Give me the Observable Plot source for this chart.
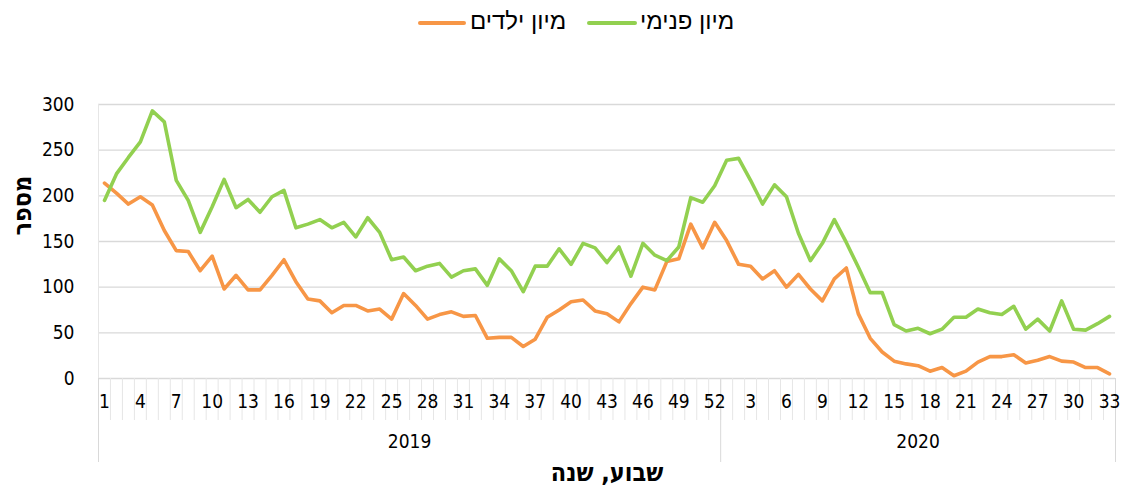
<!DOCTYPE html>
<html>
<head>
<meta charset="utf-8">
<script src="https://cdn.jsdelivr.net/npm/d3@7"></script>
<script src="https://cdn.jsdelivr.net/npm/@observablehq/plot@0.6"></script>
<style>
  body { margin: 0; background: #fff; font-family: "DejaVu Sans Condensed", "Liberation Sans", sans-serif; }
  #legend { position: relative; width: 1123px; height: 44px; }
  .sw { position: absolute; top: 21px; height: 4px; border-radius: 2px; }
  .lt { position: absolute; top: 6px; font-size: 24px; color: #000; line-height: 30px; direction: rtl; font-family: "Liberation Sans", "DejaVu Sans", sans-serif; }
</style>
</head>
<body>
<div id="legend">
  <div class="sw" style="left:418px;width:48px;background:#F79646"></div>
  <div class="lt" style="left:470px">מיון ילדים</div>
  <div class="sw" style="left:587px;width:50px;background:#92D050"></div>
  <div class="lt" style="left:640px">מיון פנימי</div>
</div>
<div id="chart"></div>
<script>
const years = ["2019", "2020"];
const weeks2019 = [1,2,3,4,5,6,7,8,9,10,11,12,13,14,15,16,17,18,19,20,21,22,23,24,25,26,27,28,29,30,31,32,33,34,35,36,37,38,39,40,41,42,43,44,45,46,47,48,49,50,51,52];
const weeks2020 = [1,2,3,4,5,6,7,8,9,10,11,12,13,14,15,16,17,18,19,20,21,22,23,24,25,26,27,28,29,30,31,32,33];
const tickWeeks2019 = [1,4,7,10,13,16,19,22,25,28,31,34,37,40,43,46,49,52];
const tickWeeks2020 = [3,6,9,12,15,18,21,24,27,30,33];
const yTicks = [0,50,100,150,200,250,300];

// מיון ילדים (orange)
const kids2019 = [214,203,191,199,190,162,140,139,118,134,98,113,97,97,113,130,106,87,85,72,80,80,74,76,65,93,80,65,70,73,68,69,44,45,45,35,43,67,75,84,86,74,71,62,82,100,97,128,131,169,143,171];
const kids2020 = [151,125,123,109,118,100,114,98,85,109,121,71,44,29,19,16,14,8,12,3,8,18,24,24,26,17,20,24,19,18,12,12,5];
// מיון פנימי (green)
const internal2019 = [195,224,242,259,293,281,217,195,160,188,218,187,196,182,199,206,165,169,174,165,171,155,176,160,130,133,118,123,126,111,118,120,102,131,118,95,123,123,142,125,148,143,127,144,112,148,135,129,144,198,193,211];
const internal2020 = [239,241,217,191,212,199,159,129,148,174,149,122,94,94,59,52,55,49,54,67,67,76,72,70,79,54,65,52,85,54,53,60,68];

const seriesNames = ["מיון ילדים", "מיון פנימי"];
const colors = ["#F79646", "#92D050"];

// build table
const rows = [];
const weekOf = [];
weeks2019.forEach(w => weekOf.push({year: years[0], week: w}));
weeks2020.forEach(w => weekOf.push({year: years[1], week: w}));
const kids = kids2019.concat(kids2020);
const internal = internal2019.concat(internal2020);
kids.forEach((v, i) => rows.push({i, series: seriesNames[0], value: v}));
internal.forEach((v, i) => rows.push({i, series: seriesNames[1], value: v}));

const n = weekOf.length;
const tickIdx = [];
weekOf.forEach((d, i) => {
  if ((d.year === years[0] && tickWeeks2019.includes(d.week)) || (d.year === years[1] && tickWeeks2020.includes(d.week))) tickIdx.push(i);
});
const sepIdx = d3.range(0, n + 1).map(i => i - 0.5);
const yearBounds = [-0.5, weeks2019.length - 0.5, n - 0.5];
const yearCenters = [(weeks2019.length - 1) / 2, weeks2019.length + (weeks2020.length - 1) / 2];

const font = '"DejaVu Sans Condensed", "Liberation Sans", sans-serif';

const chart = Plot.plot({
  width: 1123,
  height: 452,
  marginLeft: 98,
  marginRight: 8,
  marginTop: 60,
  marginBottom: 118,
  style: {fontFamily: font, fontSize: "19px", color: "#000", background: "#fff", overflow: "visible"},
  x: {type: "linear", domain: [-0.5, n - 0.5], label: null},
  y: {domain: [0, 300], nice: false, label: null},
  color: {domain: seriesNames, range: colors},
  marks: [
    Plot.gridY(yTicks, {stroke: "#D9D9D9", strokeOpacity: 1, strokeWidth: 1.3}),
    Plot.ruleX([-0.5], {stroke: "#E6E6E6", strokeWidth: 1}),
    Plot.axisX({ticks: sepIdx, tickSize: 42, tickFormat: () => "", stroke: "#E6E6E6", strokeOpacity: 1, tickPadding: 0, label: null}),
    Plot.axisX({ticks: yearBounds, tickSize: 84, tickFormat: () => "", stroke: "#D9D9D9", strokeOpacity: 1, tickPadding: 0, label: null}),
    Plot.axisX({ticks: tickIdx, tickSize: 0, tickPadding: 16, tickFormat: i => String(weekOf[i].week), fontSize: 19, label: null}),
    Plot.axisX({ticks: yearCenters, tickSize: 0, tickPadding: 56, tickFormat: (c) => years[yearCenters.indexOf(c)], fontSize: 19, label: null}),
    Plot.axisY({ticks: yTicks, tickSize: 0, tickPadding: 24, fontSize: 19, label: null}),
    Plot.line(rows, {x: "i", y: "value", stroke: "series", z: "series", strokeWidth: 3.6, strokeLinejoin: "round", strokeLinecap: "round"}),
    Plot.text(["שבוע, שנה"], {frameAnchor: "bottom", dy: 102, fontSize: 25, fontWeight: "bold", fill: "#000"}),
    Plot.text(["מספר"], {frameAnchor: "left", dx: -76, dy: -6, rotate: -90, fontSize: 25, fontWeight: "bold", fill: "#000"})
  ]
});
document.getElementById("chart").appendChild(chart);
</script>
</body>
</html>
